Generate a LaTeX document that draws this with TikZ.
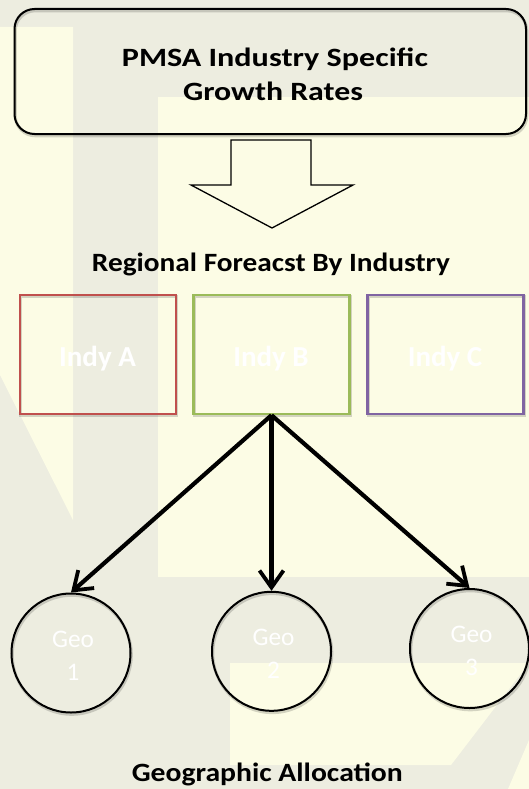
\documentclass[tikz,border=0pt]{standalone}
\usepackage{fontspec}
\setmainfont{Carlito}
\usepackage{graphicx}
\usetikzlibrary{arrows.meta}

\definecolor{bggray}{RGB}{237,237,224}
\definecolor{bgcream}{RGB}{252,252,229}
\definecolor{indyred}{RGB}{192,80,77}
\definecolor{indygreen}{RGB}{155,187,89}
\definecolor{indypurple}{RGB}{128,100,162}

\tikzset{
  softshadow/.style={preaction={draw=black, draw opacity=0.16, line width=3pt,
      transform canvas={shift={(0.8pt,-1.8pt)}}}},
  topbox/.style={draw=black, line width=2pt, rounded corners=20pt, softshadow,
      minimum width=511.5pt, minimum height=125pt, inner sep=0pt},
  blockarrow/.style={draw=black, line width=1.3pt, line join=miter},
  heading/.style={font=\bfseries\fontsize{26.4}{30}\selectfont, text=black,
      inner sep=0pt, anchor=base},
  indybox/.style={line width=2.4pt, softshadow, minimum width=156pt,
      minimum height=119pt, inner sep=0pt},
  indylabel/.style={font=\bfseries\fontsize{29}{33}\selectfont, text=white,
      inner sep=0pt, anchor=base},
  geo/.style={circle, draw=black, line width=2pt, softshadow,
      minimum size=119pt, inner sep=0pt},
  geolabel/.style={font=\fontsize{25.3}{33}\selectfont, text=white, align=center,
      inner sep=0pt},
  geoarrow/.style={draw=black, line width=4.2pt,
      -{Straight Barb[length=17pt, width=24pt, line width=3.8pt]}},
}

\begin{document}
\begin{tikzpicture}[x=1pt, y=-1pt]
\useasboundingbox (0,0) rectangle (529,789);

% watermark backdrop
\fill[bggray] (0,0) rectangle (529,789);
\fill[bgcream] (0,27) -- (73,27) -- (73,520) -- (0,375) -- cycle;
\fill[bgcream] (158,97) rectangle (529,577);
\fill[bgcream] (230,663) -- (529,663) -- (451,765) -- (230,765) -- cycle;
\fill[bgcream] (529,740) -- (529,789) -- (508,789) -- cycle;

% source of the growth rates
\node[topbox] (pmsa) at (270.25,71.5) {};
\node[heading] (pmsaline1) at (274.9,66.7)
  {\resizebox{306pt}{\height}{PMSA Industry Specific}};
\node[heading] (pmsaline2) at (273,101)
  {\resizebox{180pt}{\height}{Growth Rates}};

% hollow block arrow pointing down
\draw[blockarrow] (231,140) -- (231,185) -- (191,185) -- (272,228)
  -- (353,185) -- (311,185) -- (311,140) -- cycle;

\node[heading] (regional) at (271,271.7)
  {\resizebox{358pt}{\height}{Regional Foreacst By Industry}};

% industries
\node[indybox, draw=indyred] (indya) at (97.8,354.5) {};
\node[indybox, draw=indygreen] (indyb) at (271.5,354.5) {};
\node[indybox, draw=indypurple] (indyc) at (445.3,354.5) {};
\node[indylabel] (labela) at (97.5,366.7) {Indy A};
\node[indylabel] (labelb) at (271,366.7) {Indy B};
\node[indylabel] (labelc) at (445,366.7) {Indy C};

% geographies
\node[geo] (geo1) at (71,653) {};
\node[geo] (geo2) at (271.5,651.3) {};
\node[geo] (geo3) at (469.5,648.5) {};
\node[geolabel] (geolabel1) at ([shift={(2,2.5)}]geo1.center) {Geo\\1};
\node[geolabel] (geolabel2) at ([shift={(2,2.5)}]geo2.center) {Geo\\2};
\node[geolabel] (geolabel3) at ([shift={(2,2.5)}]geo3.center) {Geo\\3};

% allocation of industry B
\draw[geoarrow] (indyb.south) -- (geo1.north);
\draw[geoarrow] (indyb.south) -- (geo2.north);
\draw[geoarrow] (indyb.south) -- (geo3.north);

\node[heading] (allocation) at (267.3,781.7)
  {\resizebox{271pt}{\height}{Geographic Allocation}};
\end{tikzpicture}
\end{document}
